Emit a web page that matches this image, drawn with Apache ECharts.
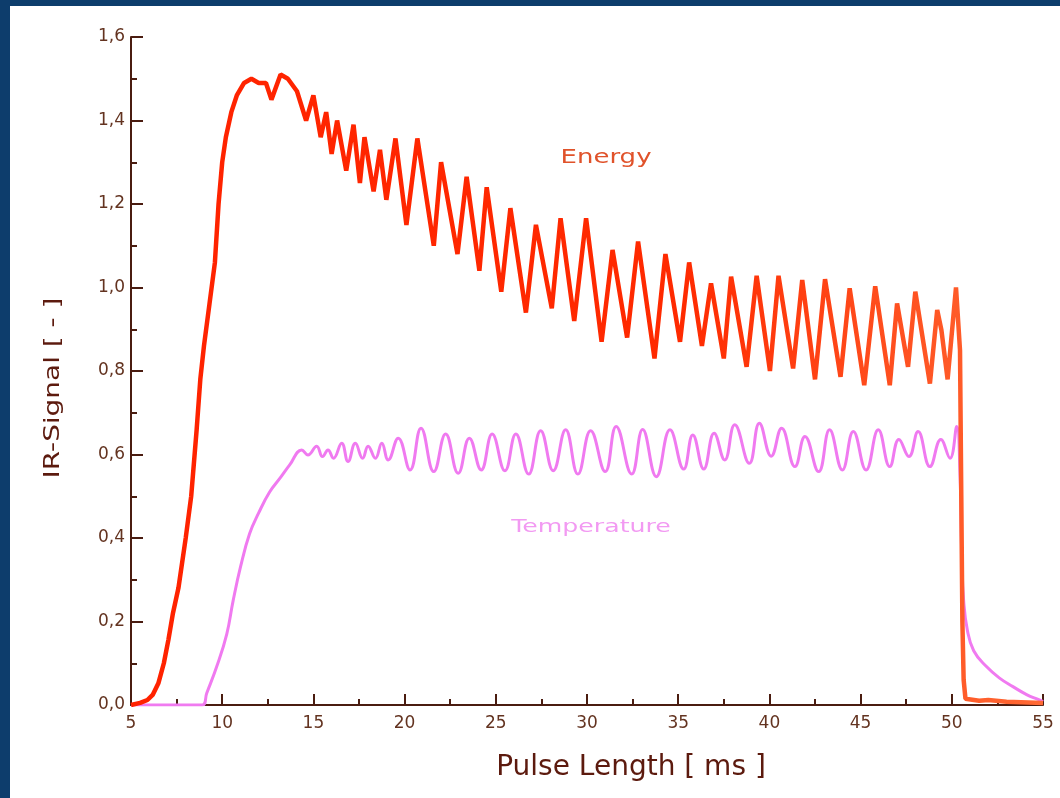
<!DOCTYPE html>
<html>
<head>
<meta charset="utf-8">
<script src="https://cdn.jsdelivr.net/npm/echarts@6/dist/echarts.min.js"></script>
<style>
  html, body { margin: 0; padding: 0; background: #0d3d6c; }
  #chart { position: absolute; left: 10px; top: 6px; width: 1050px; height: 792px; background: #fff; }
</style>
</head>
<body>
<div id="chart"></div>
<script>
// pulse time [ms] and IR signal
const energyTime = [5.0, 5.5, 5.9, 6.2, 6.5, 6.8, 7.05, 7.3, 7.6, 8.0, 8.3, 8.6, 8.8, 9.0, 9.3, 9.6, 9.8, 10.0, 10.2, 10.5, 10.8, 11.2, 11.6, 12.0, 12.4, 12.7, 13.2, 13.6, 14.1, 14.6, 15.0, 15.4, 15.7, 16.0, 16.3, 16.8, 17.2, 17.55, 17.8, 18.3, 18.65, 19.0, 19.5, 20.1, 20.7, 21.6, 22.0, 22.9, 23.4, 24.1, 24.5, 25.3, 25.8, 26.65, 27.2, 28.07, 28.55, 29.3, 29.95, 30.8, 31.4, 32.2, 32.8, 33.7, 34.3, 35.1, 35.6, 36.3, 36.8, 37.5, 37.9, 38.75, 39.3, 40.03, 40.5, 41.3, 41.8, 42.5, 43.05, 43.9, 44.4, 45.2, 45.8, 46.6, 47.0, 47.6, 48.0, 48.8, 49.2, 49.43, 49.77, 50.23, 50.45, 50.52, 50.58, 50.65, 50.75, 51.5, 52.0, 53.0, 55.0];
const energyValues = [0.0, 0.005, 0.012, 0.025, 0.052, 0.10, 0.156, 0.22, 0.28, 0.40, 0.50, 0.66, 0.78, 0.86, 0.96, 1.06, 1.20, 1.30, 1.36, 1.42, 1.46, 1.49, 1.50, 1.49, 1.49, 1.45, 1.51, 1.50, 1.47, 1.40, 1.46, 1.36, 1.42, 1.32, 1.40, 1.28, 1.39, 1.25, 1.36, 1.23, 1.33, 1.21, 1.357, 1.15, 1.357, 1.10, 1.30, 1.08, 1.265, 1.04, 1.24, 0.99, 1.19, 0.94, 1.15, 0.95, 1.166, 0.92, 1.166, 0.87, 1.09, 0.88, 1.11, 0.83, 1.08, 0.87, 1.06, 0.86, 1.01, 0.83, 1.026, 0.81, 1.028, 0.80, 1.028, 0.806, 1.018, 0.78, 1.02, 0.786, 0.998, 0.766, 1.003, 0.766, 0.962, 0.81, 0.99, 0.77, 0.946, 0.898, 0.78, 1.00, 0.85, 0.50, 0.20, 0.06, 0.015, 0.01, 0.012, 0.008, 0.005];

const tempTime = [5.0, 8.9, 9.15, 9.7, 10.25, 10.6, 11.0, 11.5, 12.0, 12.6, 13.2, 13.7, 14.36, 14.7, 15.18, 15.5, 15.8, 16.1, 16.55, 16.9, 17.3, 17.7, 18.0, 18.4, 18.75, 19.1, 19.65, 20.3, 20.9, 21.6, 22.25, 22.94, 23.55, 24.2, 24.8, 25.5, 26.1, 26.8, 27.46, 28.15, 28.83, 29.5, 30.2, 31.0, 31.6, 32.45, 33.05, 33.8, 34.55, 35.3, 35.8, 36.4, 36.97, 37.55, 38.1, 38.9, 39.45, 40.1, 40.67, 41.4, 41.95, 42.7, 43.3, 44.0, 44.6, 45.3, 45.97, 46.6, 47.1, 47.65, 48.15, 48.8, 49.4, 49.9, 50.27, 50.45, 50.55, 50.65, 50.85, 51.2, 51.9, 52.6, 53.35, 54.1, 54.8, 55.0];
const tempValues = [0.0, 0.0, 0.028, 0.092, 0.17, 0.25, 0.33, 0.41, 0.46, 0.51, 0.545, 0.575, 0.611, 0.599, 0.62, 0.595, 0.611, 0.591, 0.627, 0.583, 0.627, 0.591, 0.62, 0.591, 0.627, 0.587, 0.639, 0.563, 0.663, 0.559, 0.649, 0.555, 0.639, 0.563, 0.649, 0.561, 0.649, 0.553, 0.657, 0.561, 0.659, 0.553, 0.657, 0.559, 0.667, 0.553, 0.66, 0.547, 0.659, 0.565, 0.647, 0.565, 0.651, 0.587, 0.671, 0.579, 0.675, 0.596, 0.663, 0.571, 0.643, 0.559, 0.659, 0.563, 0.655, 0.563, 0.659, 0.571, 0.636, 0.595, 0.655, 0.571, 0.636, 0.591, 0.667, 0.55, 0.35, 0.25, 0.18, 0.13, 0.092, 0.065, 0.044, 0.025, 0.012, 0.008];

const xTicks = [5, 10, 15, 20, 25, 30, 35, 40, 45, 50, 55];
const yTicks = [0.0, 0.2, 0.4, 0.6, 0.8, 1.0, 1.2, 1.4, 1.6];

const axisColor = "#4a1c10";
const labelColor = "#633320";
const titleColor = "#5c1a0e";

function pairs(xs, ys) {
  return xs.map((x, i) => [x, ys[i]]);
}

const chart = echarts.init(document.getElementById("chart"));
const option = {
  backgroundColor: "#ffffff",
  animation: false,
  grid: {
    left: 121,
    right: 17,
    top: 31,
    bottom: 93
  },
  xAxis: {
    type: "value",
    min: xTicks[0],
    max: xTicks[xTicks.length - 1],
    interval: 5,
    axisLine: { lineStyle: { color: axisColor, width: 2 } },
    axisTick: { inside: true, length: 11, lineStyle: { color: axisColor, width: 2 } },
    minorTick: { show: true, splitNumber: 2, length: 6, lineStyle: { color: axisColor, width: 2 } },
    splitLine: { show: false },
    axisLabel: {
      color: labelColor,
      fontFamily: "DejaVu Sans",
      fontSize: 17,
      margin: 10
    }
  },
  yAxis: {
    type: "value",
    min: yTicks[0],
    max: yTicks[yTicks.length - 1],
    interval: 0.2,
    axisLine: { show: true, lineStyle: { color: axisColor, width: 2 } },
    axisTick: { show: true, inside: true, length: 12, lineStyle: { color: axisColor, width: 2 } },
    minorTick: { show: true, splitNumber: 2, length: 6, lineStyle: { color: axisColor, width: 2 } },
    splitLine: { show: false },
    axisLabel: {
      color: labelColor,
      fontFamily: "DejaVu Sans",
      fontSize: 17,
      margin: 6,
      formatter: v => v.toFixed(1).replace(".", ",")
    }
  },
  graphic: [
    {
      type: "text",
      x: 43,
      y: 382,
      rotation: Math.PI / 2,
      scaleX: 1.27,
      style: {
        text: "IR-Signal [ - ]",
        x: 0,
        y: 0,
        textAlign: "center",
        textVerticalAlign: "middle",
        fill: titleColor,
        font: "22px 'DejaVu Sans'"
      }
    },
    {
      type: "text",
      x: 621,
      y: 762,
      style: {
        text: "Pulse Length [ ms ]",
        x: 0,
        y: 0,
        textAlign: "center",
        textVerticalAlign: "middle",
        fill: titleColor,
        font: "28px 'DejaVu Sans'"
      }
    },
    {
      type: "text",
      x: 596,
      y: 152,
      scaleX: 1.3,
      style: {
        text: "Energy",
        x: 0,
        y: 0,
        textAlign: "center",
        textVerticalAlign: "middle",
        fill: "#e0522a",
        font: "20px 'DejaVu Sans'"
      }
    },
    {
      type: "text",
      x: 581,
      y: 521,
      scaleX: 1.4,
      style: {
        text: "Temperature",
        x: 0,
        y: 0,
        textAlign: "center",
        textVerticalAlign: "middle",
        fill: "#f29af2",
        font: "18px 'DejaVu Sans'"
      }
    }
  ],
  series: [
    {
      name: "Temperature",
      type: "line",
      data: pairs(tempTime, tempValues),
      showSymbol: false,
      smooth: 0.45,
      lineStyle: { color: "#f07af0", width: 3 },
      z: 2
    },
    {
      name: "Energy",
      type: "line",
      data: pairs(energyTime, energyValues),
      showSymbol: false,
      lineStyle: {
        width: 4.5,
        color: new echarts.graphic.LinearGradient(0, 0, 1, 0, [
          { offset: 0, color: "#ff2200" },
          { offset: 0.6, color: "#ff2a00" },
          { offset: 1, color: "#ff6a35" }
        ])
      },
      z: 3
    }
  ]
};
chart.setOption(option);
</script>
</body>
</html>
